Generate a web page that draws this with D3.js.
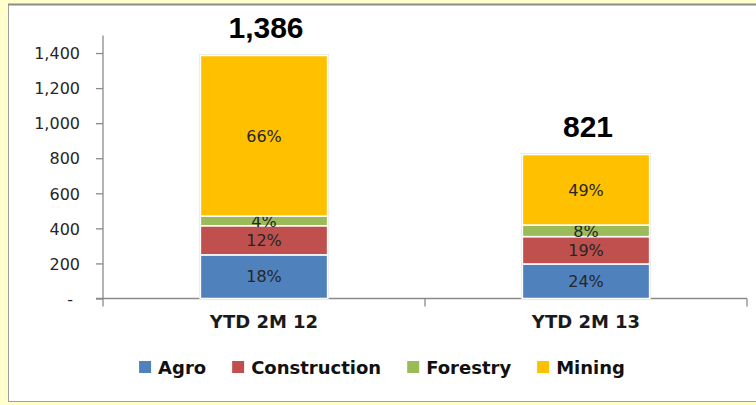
<!DOCTYPE html>
<html>
<head>
    <meta charset="UTF-8" />
    <script src="https://d3js.org/d3.v7.min.js"></script>
    <style>
        body { margin: 0; background-color: #ffffcc; }
        svg { display: block; }
    </style>
</head>
<body>
    <svg id="chart" width="756" height="405"></svg>

    <script>
        // data
        const categories = ['YTD 2M 12', 'YTD 2M 13'];
        const sectors = ['Agro', 'Construction', 'Forestry', 'Mining'];
        const agro = [249, 197];
        const construction = [166, 156];
        const forestry = [55, 66];
        const mining = [916, 402];
        const yTicks = [0, 200, 400, 600, 800, 1000, 1200, 1400];
        const colors = ['#4f81bd', '#c0504d', '#9bbb59', '#ffc000'];

        const svg = d3.select('svg#chart');

        // white chart area with a grey frame
        svg.append('rect')
            .attr('x', 8.5).attr('y', 4.5)
            .attr('width', 760).attr('height', 397)
            .attr('fill', 'white')
            .attr('stroke', '#a0a0a0')
            .attr('stroke-width', 1);
        svg.append('line')
            .attr('x1', 8).attr('x2', 756).attr('y1', 4.5).attr('y2', 4.5)
            .style('stroke', '#8c8c8c').style('stroke-width', 2);

        const margins = {top: 35.5, left: 103, right: 9, bottom: 106.5};
        const plotWidth = 756 - margins.left - margins.right;
        const plotHeight = 405 - margins.top - margins.bottom;
        const plot = svg.append('g')
            .attr('transform', `translate(${margins.left}, ${margins.top})`);

        const table = categories.map((c, i) => ({
            cat: c, Agro: agro[i], Construction: construction[i],
            Forestry: forestry[i], Mining: mining[i]
        }));
        table.forEach(d => { d.total = d3.sum(sectors, s => d[s]); });

        const xScale = d3.scaleBand().domain(categories).range([0, plotWidth]);
        const yScale = d3.scaleLinear().domain([0, 1500]).range([plotHeight, 0]);
        const colorScale = d3.scaleOrdinal().domain(sectors).range(colors);
        const barWidth = xScale.bandwidth() * 0.395;

        // y axis
        const yAxis = d3.axisLeft(yScale)
            .tickValues(yTicks)
            .tickSize(7)
            .tickPadding(16)
            .tickFormat(d => d === 0 ? '-' : d3.format(',')(d));
        const yG = plot.append('g').call(yAxis);
        yG.select('.domain').attr('d', `M0,${plotHeight}V0`);
        yG.selectAll('.tick text')
            .style('font-family', '"DejaVu Sans", sans-serif')
            .style('font-size', '16px')
            .attr('fill', '#262626')
            .attr('dy', '0.36em');
        yG.selectAll('.tick text').filter(d => d === 0).attr('dx', -7);

        // x axis, ticks between categories
        const xG = plot.append('g').attr('transform', `translate(0, ${plotHeight})`);
        xG.append('line')
            .attr('x1', -7).attr('x2', plotWidth)
            .attr('y1', 0).attr('y2', 0);
        [0, 1, 2].forEach(i => {
            xG.append('line')
                .attr('x1', i * xScale.step()).attr('x2', i * xScale.step())
                .attr('y1', 0).attr('y2', 8);
        });
        xG.selectAll('line').style('stroke', '#8a8a8a').style('stroke-width', 1.3);
        yG.selectAll('line, path').style('stroke', '#8a8a8a').style('stroke-width', 1.3);

        xG.selectAll('text.cat')
            .data(categories)
            .join('text')
            .attr('class', 'cat')
            .attr('x', d => xScale(d) + xScale.bandwidth() / 2)
            .attr('y', 29)
            .attr('text-anchor', 'middle')
            .style('font-family', '"DejaVu Sans", sans-serif')
            .style('font-weight', 'bold')
            .style('font-size', '18px')
            .attr('fill', '#1a1a1a')
            .text(d => d);

        // stacked bars
        const stack = d3.stack().keys(sectors)(table);
        const barX = d => xScale(d.data.cat) + (xScale.bandwidth() - barWidth) / 2;

        // soft shadow round each bar
        plot.selectAll('rect.shadow')
            .data(table)
            .join('rect')
            .attr('class', 'shadow')
            .attr('x', d => xScale(d.cat) + (xScale.bandwidth() - barWidth) / 2 - 1.5)
            .attr('y', d => yScale(d.total) - 1.5)
            .attr('width', barWidth + 3)
            .attr('height', d => yScale(0) - yScale(d.total) + 1.5)
            .attr('fill', '#e4e4e4');

        const layers = plot.selectAll('g.layer')
            .data(stack)
            .join('g')
            .attr('class', 'layer')
            .attr('fill', d => colorScale(d.key));

        layers.selectAll('rect')
            .data(d => d)
            .join('rect')
            .attr('x', barX)
            .attr('y', d => yScale(d[1]))
            .attr('width', barWidth)
            .attr('height', d => yScale(d[0]) - yScale(d[1]))
            .attr('stroke', 'white')
            .attr('stroke-width', 1.5);

        // percentage labels
        layers.selectAll('text')
            .data(d => d)
            .join('text')
            .attr('x', d => barX(d) + barWidth / 2)
            .attr('y', d => (yScale(d[0]) + yScale(d[1])) / 2)
            .attr('dy', '0.36em')
            .attr('text-anchor', 'middle')
            .style('font-family', '"DejaVu Sans", sans-serif')
            .style('font-size', '16px')
            .attr('fill', '#262626')
            .text(d => Math.round((d[1] - d[0]) / d.data.total * 100) + '%');

        // totals above bars
        plot.selectAll('text.total')
            .data(table)
            .join('text')
            .attr('class', 'total')
            .attr('x', d => xScale(d.cat) + xScale.bandwidth() / 2 + 2)
            .attr('y', d => yScale(d.total) - 18)
            .attr('text-anchor', 'middle')
            .style('font-family', '"Liberation Sans", Arial, sans-serif')
            .style('font-weight', 'bold')
            .style('font-size', '30px')
            .attr('fill', 'black')
            .text(d => d3.format(',')(d.total));

        // legend
        const legend = svg.append('g');
        let cursor = 0;
        sectors.forEach((s, i) => {
            const item = legend.append('g').attr('transform', `translate(${cursor}, 0)`);
            item.append('rect')
                .attr('x', 0).attr('y', -13)
                .attr('width', 12).attr('height', 12)
                .attr('fill', colorScale(s));
            const t = item.append('text')
                .attr('x', 19).attr('y', 0)
                .style('font-family', '"DejaVu Sans", sans-serif')
                .style('font-weight', 'bold')
                .style('font-size', '18px')
                .attr('fill', '#111')
                .text(s);
            cursor += 19 + t.node().getComputedTextLength() + 26;
        });
        const legendWidth = cursor - 26;
        legend.attr('transform', `translate(${382 - legendWidth / 2}, 374)`);
    </script>
</body>
</html>
